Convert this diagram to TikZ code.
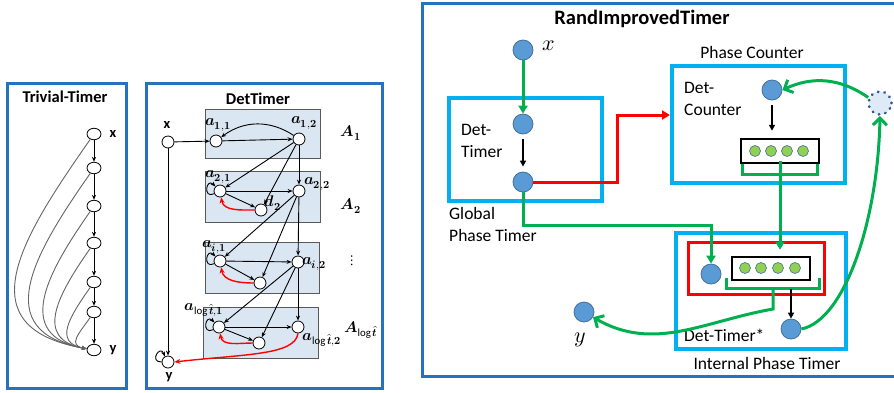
\documentclass[tikz,border=0pt]{standalone}
\usepackage{unicode-math}
\setmainfont{Carlito}
\setmathfont{Latin Modern Math}
\usetikzlibrary{arrows.meta,shapes.geometric,calc}
\definecolor{panelblue}{RGB}{38,114,190}
\definecolor{cyanbox}{RGB}{0,176,240}
\definecolor{grn}{RGB}{0,176,80}
\definecolor{boxfill}{RGB}{218,230,242}
\definecolor{boxdraw}{RGB}{89,89,89}
\definecolor{nodeblue}{RGB}{91,155,213}
\definecolor{nodeborder}{RGB}{65,113,156}
\definecolor{dotblue}{RGB}{47,85,151}
\definecolor{lgreen}{RGB}{146,208,80}
\definecolor{dotfill}{RGB}{222,235,247}
\definecolor{curvegray}{RGB}{100,100,100}
\newcommand{\fsz}[1]{\fontsize{#1}{#1}\selectfont}
\begin{document}
\begin{tikzpicture}[x=1pt,y=1pt,
  panel/.style={draw=panelblue,line width=3pt},
  ttitle/.style={font=\fsz{16.5}\bfseries},
  tnode/.style={ellipse,draw,fill=white,minimum width=14pt,minimum height=11.5pt,inner sep=0pt,line width=0.8pt},
  wnode/.style={circle,draw,fill=white,minimum size=12pt,inner sep=0pt,line width=0.8pt},
  abox/.style={draw=boxdraw,fill=boxfill,line width=0.9pt},
  blk/.style={line width=0.9pt,-{Stealth[length=5pt,width=4pt]}},
  redc/.style={red,line width=1.4pt,-{Stealth[length=6pt,width=5pt]}},
  gcurve/.style={curvegray,line width=0.9pt,-{Stealth[length=5pt,width=4pt]}},
  mlabel/.style={font=\fsz{15.5},inner sep=0pt},
  blabel/.style={font=\fsz{14.5}\bfseries,inner sep=0pt},
  rtext/.style={font=\fontsize{17.5}{22}\selectfont,inner sep=0pt,align=left},
  bnode/.style={circle,fill=nodeblue,draw=nodeborder,line width=0.8pt,minimum size=20pt,inner sep=0pt},
  gdot/.style={circle,fill=lgreen,draw=nodeborder,line width=0.6pt,minimum size=11pt,inner sep=0pt},
  cbox/.style={draw=cyanbox,line width=4pt,inner sep=0pt},
  reg/.style={draw=black,line width=2.5pt,fill=white,inner sep=0pt},
  gline/.style={grn,line width=3pt},
  gfill/.style={gline,-{Triangle[length=8pt,width=9pt]}},
  gopen/.style={gline,-{Straight Barb[length=7pt,width=14pt]}},
  karrow/.style={black,line width=1.5pt,-{Triangle[length=6pt,width=6pt]}},
  rarrow/.style={red,line width=3pt,-{Triangle[length=8pt,width=9pt]}}
]
\useasboundingbox (0,0) rectangle (894,-392);

% ---------------- Trivial-Timer ----------------
\draw[panel] (7,-83) rectangle (126,-388);
\node[ttitle] (tt) at (65,-97) {Trivial-Timer};
\node[tnode] (t1) at (94,-134) {};
\node[tnode] (t2) at (94,-168) {};
\node[tnode] (t3) at (94,-206) {};
\node[tnode] (t4) at (94,-243) {};
\node[tnode] (t5) at (94,-282) {};
\node[tnode] (t6) at (94,-312) {};
\node[tnode] (t7) at (94,-350) {};
\node[blabel] (tx) at (113,-134) {x};
\node[blabel] (ty) at (113,-350) {y};
\foreach \a/\b in {t1/t2,t2/t3,t3/t4,t4/t5,t5/t6,t6/t7}
  \draw[blk] (\a) -- (\b);
\foreach \i/\l in {1/1.5,2/1.45,3/1.4,4/1.4,5/1.45,6/1.6}
  \draw[gcurve] (t\i) to[out=235,in=170,looseness=\l] (t7);

% ---------------- DetTimer ----------------
\draw[panel] (146,-83) rectangle (382,-388);
\node[ttitle] (dt) at (258,-99) {DetTimer};
\draw[abox] (205,-109) rectangle (320,-158);
\draw[abox] (205,-171) rectangle (320,-222);
\draw[abox] (205,-242) rectangle (319,-293);
\draw[abox] (203,-307) rectangle (318,-358);

\node[wnode] (X)   at (168,-142) {};
\node[wnode] (a11) at (216,-141) {};
\node[wnode] (a12) at (299,-139) {};
\node[wnode] (a21) at (220,-191) {};
\node[wnode] (a22) at (299,-191) {};
\node[wnode] (d2)  at (261,-210) {};
\node[wnode] (ai1) at (220,-261) {};
\node[wnode] (ai2) at (298,-262) {};
\node[wnode] (di)  at (260,-283) {};
\node[wnode] (al1) at (219,-327) {};
\node[wnode] (al2) at (298,-327) {};
\node[wnode] (dl)  at (259,-343) {};
\node[wnode] (Y)   at (168,-362) {};

\node[blabel] (lx) at (167,-125) {x};
\node[blabel] (ly) at (169,-377) {y};
\node[mlabel] (l11) at (218,-125) {$\symbfit{a}_{\symbf{1,1}}$};
\node[mlabel] (l12) at (304,-123) {$\symbfit{a}_{\symbf{1,2}}$};
\node[mlabel] (lA1) at (351,-133) {$\symbfit{A}_{\symbf{1}}$};
\node[mlabel] (l21) at (218,-177) {$\symbfit{a}_{\symbf{2,1}}$};
\node[mlabel] (l22) at (317,-184) {$\symbfit{a}_{\symbf{2,2}}$};
\node[mlabel] (ld2) at (273,-203) {$\symbfit{d}_{\symbf{2}}$};
\node[mlabel] (lA2) at (351,-206) {$\symbfit{A}_{\symbf{2}}$};
\node[mlabel] (li1) at (214,-247) {$\symbfit{a}_{\symbfit{i},\symbf{1}}$};
\node[mlabel] (li2) at (314,-264) {$\symbfit{a}_{\symbfit{i},\symbf{2}}$};
\node[font=\fsz{15}] (vd) at (352,-261) {$\vdots$};
\node[mlabel] (ll1) at (204,-310) {$\symbfit{a}_{\log\hat{\symbfit{t}},\symbf{1}}$};
\node[mlabel] (ll2) at (322,-340) {$\symbfit{a}_{\log\hat{\symbfit{t}},\symbf{2}}$};
\node[mlabel] (lAl) at (361,-330) {$\symbfit{A}_{\log\hat{\symbfit{t}}}$};

\draw[blk] (X) -- (a11);
\draw[blk] (X) -- (Y);
\draw[blk] (a11) -- (a12);
\draw[blk] (a12) to[bend right=35] (a11);
\foreach \s/\t in {a12/a21,a12/d2,a12/a22,a21/a22,a21/d2,
                   a22/ai1,a22/di,a22/ai2,ai1/ai2,ai1/di,
                   ai2/al1,ai2/dl,ai2/al2,al1/al2,al1/dl}
  \draw[blk] (\s) -- (\t);
\foreach \n in {a21,ai1,al1}
  \draw[blk] (\n.205) .. controls +(205:13) and +(135:13) .. (\n.135);
\draw[blk] (Y.180) .. controls +(180:13) and +(110:13) .. (Y.120);
\draw[redc] (d2) to[out=180,in=-80] (a21);
\draw[redc] (di) to[out=180,in=-80] (ai1);
\draw[redc] (dl) to[out=180,in=-80] (al1);
\draw[redc] (al2.south) .. controls +(-3,-22) and +(70,8) .. (Y.east);

% ---------------- RandImprovedTimer ----------------
\draw[panel] (422,-3) rectangle (898,-376);
\node[font=\fsz{20.5}\bfseries] (rtt) at (642,-19) {RandImprovedTimer};

\node[bnode] (Xn) at (523,-50) {};
\node[font=\fsz{22},inner sep=0pt] (xl) at (549,-46) {$x$};

\node[cbox,minimum width=153pt,minimum height=103pt] (DT) at (525.5,-149.5) {};
\node[rtext,anchor=west] (dtl) at (461,-141) {Det-\\Timer};
\node[bnode] (N1) at (523,-124) {};
\node[bnode] (N2) at (523,-182) {};
\node[rtext,anchor=west] (gpt) at (449,-224) {Global\\Phase Timer};

\node[cbox,minimum width=173pt,minimum height=117pt] (PC) at (758.5,-124.5) {};
\node[font=\fsz{17.5}] (pcl) at (752,-52) {Phase Counter};
\node[rtext,anchor=west] (dcl) at (684,-99) {Det-\\Counter};
\node[bnode] (PN) at (772,-90) {};
\node[reg,minimum width=78pt,minimum height=24pt] (R1) at (780,-151) {};
\node[gdot] (c1) at (755,-151) {};
\node[gdot] (c2) at (771,-151) {};
\node[gdot] (c3) at (787,-151) {};
\node[gdot] (c4) at (803,-151) {};

\node[circle,minimum size=23pt,inner sep=0pt,fill=dotfill,draw=dotblue,
      line width=3pt,line cap=round,dash pattern=on 0.1pt off 6.5pt] (DC) at (880,-103) {};

\node[cbox,minimum width=170pt,minimum height=116pt] (IPT) at (761,-291) {};
\node[font=\fsz{17.5}] (ipl) at (767,-363) {Internal Phase Timer};
\node[draw=red,line width=3pt,minimum width=136pt,minimum height=52pt,inner sep=0pt] (IRB) at (756,-268) {};
\node[bnode] (IN) at (711,-274) {};
\node[reg,minimum width=78pt,minimum height=23pt] (R2) at (771,-268.5) {};
\node[gdot] (e1) at (745,-268) {};
\node[gdot] (e2) at (761,-268) {};
\node[gdot] (e3) at (778,-268) {};
\node[gdot] (e4) at (795,-268) {};
\node[bnode] (IN2) at (791,-329) {};
\node[rtext,anchor=west] (dts) at (684,-335) {Det-Timer*};

\node[bnode] (Yn) at (584,-312) {};
\node[font=\fsz{22},inner sep=0pt] (yl) at (580,-340) {$y$};

% connectors
\draw[gfill] (Xn) -- (N1);
\draw[karrow,shorten <=5pt,shorten >=5pt] (N1) -- (N2);
\coordinate (rc) at (617,-115);
\draw[rarrow] (N2.east) -| (rc) -- (rc -| PC.west);
\draw[gfill] (N2.south) -- ++(0,-33) -| (IN.north);
\draw[karrow,shorten <=5pt,shorten >=7pt] (PN.south) -- (PN.south |- R1.north);
\draw[gline] ($(R1.south west)+(3,0)$) -- ++(0,-10) -| ($(R1.south east)+(-3,0)$);
\coordinate (bm1) at (780,-161);
\draw[gfill,shorten >=6pt] (bm1) -- (bm1 |- R2.north);
\draw[gopen] (DC.155) to[bend right=30] (PN.east);
\draw[gopen] (IN2.east) .. controls (845,-320) and (878,-220) .. (DC.south);
\draw[gline] ($(R2.south west)+(-4,3)$) -- ++(0,-10) -| ($(R2.south east)+(8,3)$);
\coordinate (bm2) at (773,-287);
\draw[gopen] (bm2) -- ++(0,-22) to[out=190,in=-30] (Yn);
\coordinate (ba) at (791,-289);
\draw[karrow] (ba) -- (IN2.north);
\end{tikzpicture}
\end{document}
